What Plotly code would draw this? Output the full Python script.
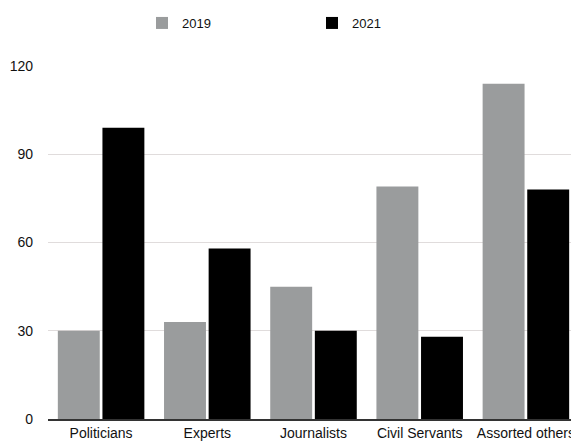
import plotly.graph_objects as go

categories = ["Politicians", "Experts", "Journalists", "Civil Servants", "Assorted others"]
values_2019 = [30, 33, 45, 79, 114]
values_2021 = [99, 58, 30, 28, 78]
y_ticks = [0, 30, 60, 90, 120]

fig = go.Figure()
fig.add_trace(go.Bar(name="2019", x=categories, y=values_2019, marker=dict(color="#9a9c9d", line=dict(width=0))))
fig.add_trace(go.Bar(name="2021", x=categories, y=values_2021, marker=dict(color="#000000", line=dict(width=0))))

fig.update_layout(
    width=571, height=433,
    margin=dict(l=40, r=0, t=58, b=22, autoexpand=False),
    paper_bgcolor="white", plot_bgcolor="white",
    font=dict(family="Liberation Sans, Arial, sans-serif", size=14, color="#111"),
    barmode="group", bargap=0.16, bargroupgap=0.06,
    showlegend=True,
    legend=dict(orientation="h", x=0.177, xanchor="left", xref="paper",
                y=1.0, yanchor="top", yref="container",
                entrywidth=125, entrywidthmode="pixels",
                font=dict(size=13), itemclick=False),
    xaxis=dict(showline=True, linecolor="#333", linewidth=1.5, ticks="", tickfont=dict(size=14),
               showgrid=False, fixedrange=True, automargin=False),
    yaxis=dict(range=[0, 120], tickvals=y_ticks, showgrid=True, gridcolor="#e0dcdc", gridwidth=1,
               zeroline=False, ticks="", ticklabelstandoff=14, tickfont=dict(size=14),
               fixedrange=True, automargin=False),
)

fig.write_html("out.html")
